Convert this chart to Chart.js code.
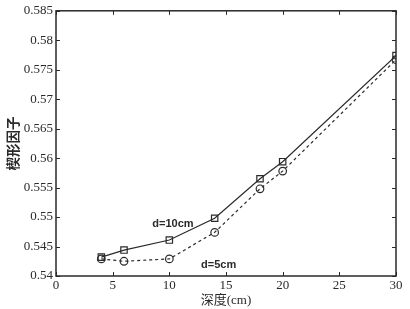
<!DOCTYPE html>
<html>
<head>
<meta charset="utf-8">
<script src="https://cdn.jsdelivr.net/npm/chart.js@4.4.1/dist/chart.umd.min.js"></script>
<style>
  html, body { margin:0; padding:0; background:#fff; }
  #wrap { width:410px; height:309px; position:relative; }
</style>
</head>
<body>
<div id="wrap"><canvas id="c"></canvas></div>
<script>
// depth values (cm) and wedge factor readings
const depths = [4, 6, 10, 14, 18, 20, 30];
const d10 = [0.5432, 0.5444, 0.5461, 0.5498, 0.5565, 0.5594, 0.5774];
const d5  = [0.5429, 0.5425, 0.5429, 0.5474, 0.5548, 0.5578, 0.5767];
const xTicks = [0, 5, 10, 15, 20, 25, 30];
const yTicks = [0.54, 0.545, 0.55, 0.555, 0.56, 0.565, 0.57, 0.575, 0.58, 0.585];
// in-plot labels: [text, x, y]
const notes = [['d=10cm', 8.5, 0.5489], ['d=5cm', 12.8, 0.5419]];

const ink = '#2a2a2a';

// box frame + inward tick marks + in-plot labels
const framePlugin = {
  id: 'frame',
  afterDatasetsDraw(chart) {
    const ctx = chart.ctx, a = chart.chartArea;
    const xs = chart.scales.x, ys = chart.scales.y;
    ctx.save();
    ctx.strokeStyle = ink;
    ctx.lineWidth = 1.5;
    ctx.strokeRect(a.left, a.top, a.right - a.left, a.bottom - a.top);
    ctx.lineWidth = 1;
    const L = 4;
    xTicks.forEach(v => {
      const px = Math.round(xs.getPixelForValue(v)) + 0.5;
      ctx.beginPath();
      ctx.moveTo(px, a.bottom); ctx.lineTo(px, a.bottom - L);
      ctx.moveTo(px, a.top); ctx.lineTo(px, a.top + L);
      ctx.stroke();
    });
    yTicks.forEach(v => {
      const py = Math.round(ys.getPixelForValue(v)) + 0.5;
      ctx.beginPath();
      ctx.moveTo(a.left, py); ctx.lineTo(a.left + L, py);
      ctx.moveTo(a.right, py); ctx.lineTo(a.right - L, py);
      ctx.stroke();
    });
    ctx.fillStyle = ink;
    ctx.font = 'bold 11px "Liberation Sans", Arial, sans-serif';
    ctx.textBaseline = 'middle';
    notes.forEach(([t, x, y]) => {
      ctx.fillText(t, xs.getPixelForValue(x), ys.getPixelForValue(y));
    });
    ctx.restore();
  }
};

new Chart(document.getElementById('c'), {
  type: 'line',
  data: {
    datasets: [
      {
        label: 'd=10cm',
        data: depths.map((x, i) => ({x: x, y: d10[i]})),
        borderColor: ink, borderWidth: 1.2,
        pointStyle: 'rect', pointRadius: 4.5, pointBorderWidth: 1.2,
        pointBackgroundColor: 'rgba(255,255,255,0)', pointBorderColor: ink,
        tension: 0
      },
      {
        label: 'd=5cm',
        data: depths.map((x, i) => ({x: x, y: d5[i]})),
        borderColor: ink, borderWidth: 1.2, borderDash: [3, 3],
        pointStyle: 'circle', pointRadius: 3.8, pointBorderWidth: 1.2,
        pointBackgroundColor: 'rgba(255,255,255,0)', pointBorderColor: ink,
        tension: 0
      }
    ]
  },
  options: {
    responsive: true, maintainAspectRatio: false, animation: false,
    layout: { padding: { left: 0, right: 14, top: 9, bottom: 0 } },
    plugins: { legend: { display: false }, tooltip: { enabled: false } },
    scales: {
      x: {
        type: 'linear', min: 0, max: 30,
        afterBuildTicks: s => { s.ticks = xTicks.map(v => ({value: v})); },
        afterFit: s => { s.height = 33; },
        grid: { display: false, drawTicks: false },
        border: { display: false },
        ticks: { color: ink, padding: 2, font: { family: '"Liberation Serif", serif', size: 13 } },
        title: {
          display: true, text: '深度(cm)', color: ink, padding: { top: 0, bottom: 1 },
          font: { family: '"Liberation Serif", "Noto Sans CJK SC", serif', size: 13 }
        }
      },
      y: {
        type: 'linear', min: 0.54, max: 0.585,
        afterBuildTicks: s => { s.ticks = yTicks.map(v => ({value: v})); },
        afterFit: s => { s.width = 56; },
        grid: { display: false, drawTicks: false },
        border: { display: false },
        ticks: {
          color: ink, padding: 3, font: { family: '"Liberation Serif", serif', size: 13 },
          callback: v => String(parseFloat(v.toFixed(3)))
        },
        title: {
          display: true, text: '楔形因子', color: ink, padding: { top: 5, bottom: 0 },
          font: { family: '"Noto Sans CJK SC", sans-serif', size: 13.5, weight: 'bold' }
        }
      }
    }
  },
  plugins: [framePlugin]
});
</script>
</body>
</html>
